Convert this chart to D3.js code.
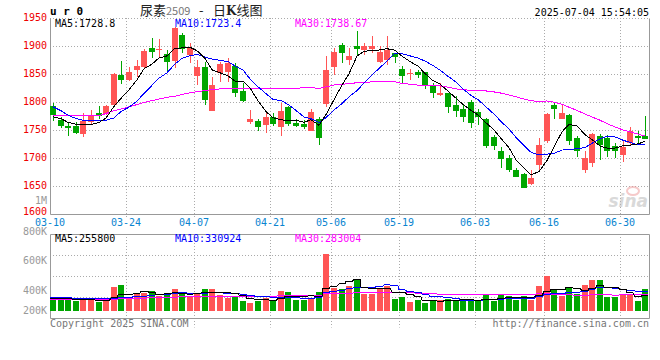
<!DOCTYPE html>
<html>
<head>
<meta charset="utf-8">
<script src="https://cdn.jsdelivr.net/npm/d3@7"></script>
<style>
  body { margin: 0; background: #fff; }
  svg text { font-family: "DejaVu Sans Mono", monospace; font-size: 10px; }
</style>
</head>
<body>
<div id="chart"></div>
<script>
// data
var dates = ['03-10','03-11','03-12','03-13','03-14','03-17','03-18','03-19','03-20','03-21',
  '03-24','03-25','03-26','03-27','03-28','03-31','04-01','04-02','04-03','04-07',
  '04-08','04-09','04-10','04-11','04-14','04-15','04-16','04-17','04-18','04-21',
  '04-22','04-23','04-24','04-25','04-28','04-29','04-30','05-06','05-07','05-08',
  '05-09','05-12','05-13','05-14','05-15','05-16','05-19','05-20','05-21','05-22',
  '05-23','05-26','05-27','05-28','05-29','05-30','06-03','06-04','06-05','06-06',
  '06-09','06-10','06-11','06-12','06-13','06-16','06-17','06-18','06-19','06-20',
  '06-23','06-24','06-25','06-26','06-27','06-30','07-01','07-02','07-03']
var opens = [1792,1767,1757,1757,1742,1764,1780,1778,1794,1848, 1839,1857,1863,1896,1892,1886,1873,1920,1884,1846,
  1863,1784,1852,1854,1864,1819,1763,1766,1758,1773, 1755,1790,1762,1761,1748,1770,1796,1862,1902,1874,
  1899,1893,1895,1871,1874,1887,1858,1849,1854,1853, 1830,1813,1815,1794,1787,1800,1781,1769,1737,1711,
  1700,1678,1671,1653,1687,1729,1794,1770,1776,1735, 1678,1691,1739,1735,1720,1705,1726,1739,1739]
var highs = [1798,1773,1763,1764,1780,1785,1792,1794,1852,1873, 1863,1875,1895,1914,1912,1892,1934,1923,1905,1875,
  1872,1845,1872,1878,1869,1833,1785,1770,1782,1780, 1797,1792,1770,1768,1787,1773,1882,1897,1905,1896,
  1926,1905,1917,1899,1917,1888,1864,1858,1857,1854, 1833,1834,1816,1810,1794,1803,1787,1771,1741,1719,
  1705,1681,1672,1678,1735,1780,1797,1794,1778,1738, 1711,1744,1742,1741,1726,1732,1754,1747,1775]
var lows = [1766,1753,1739,1743,1737,1759,1769,1776,1791,1832, 1838,1845,1860,1878,1878,1854,1861,1888,1869,1830,
  1794,1784,1836,1836,1809,1800,1761,1748,1745,1757, 1739,1757,1754,1752,1747,1723,1790,1848,1869,1866,
  1882,1884,1887,1869,1866,1870,1833,1839,1842,1822, 1806,1810,1780,1772,1763,1753,1759,1717,1713,1681,
  1674,1665,1645,1651,1678,1726,1770,1770,1723,1702, 1672,1684,1696,1702,1699,1693,1723,1723,1733]
var closes = [1776,1756,1753,1745,1766,1776,1775,1792,1849,1839, 1853,1864,1891,1890,1894,1872,1932,1894,1896,1863,
  1803,1830,1867,1870,1815,1802,1769,1754,1772,1760, 1784,1761,1757,1755,1782,1735,1857,1889,1887,1882,
  1894,1899,1899,1890,1893,1880,1846,1852,1848,1828, 1815,1815,1790,1784,1772,1762,1773,1721,1720,1697,
  1677,1666,1645,1663,1723,1778,1787,1780,1729,1711, 1699,1742,1723,1711,1711,1719,1747,1735,1733]
var volumes = [198,233,198,174,186,198,157,174,417,447, 233,290,313,348,256,273,377,303,256,313,
  377,377,273,233,256,174,139,174,233,186, 348,330,198,198,233,330,998,407,390,430,
  546,290,303,407,430,216,243,157,186,139, 186,186,216,186,198,174,174,290,174,290,
  256,198,256,198,430,603,372,256,407,303, 447,546,546,243,243,290,273,174,377].map(function (v) { return v * 1000 })

// moving averages before the window is full (they use older bars)
var ma5Head = [1773,1770,1763,1760]
var ma10Head = [1791,1784,1776,1770,1767,1766,1766,1767,1771]
var ma30Head = [1775,1775,1775,1775,1775,1775,1775,1779,1784,1787, 1791,1795,1799,1802,1805,1808,1810,1813,1816,1818,
  1820,1822,1823,1824,1824,1824,1823,1823,1823]
var vma5Head = [225000,220000,215000,205000]
var vma10Head = [232000,230000,228000,225000,222000,218000,214000,212000,214000]
var vma30Head = [200000,200000,200000,200000,200000,200000,200000,200000,200000,210000,
  215000,220000,225000,230000,235000,240000,243000,246000,248000,250000,
  252000,254000,255000,256000,257000,258000,258000,258000,258000]

var priceTicks = [1600,1650,1700,1750,1800,1850,1900,1950]
var volTicks = [1000000,800000,600000,400000,200000]
var volTickText = ['1M','800K','600K','400K','200K']
var dateTicks = ['03-10','03-24','04-07','04-21','05-06','05-19','06-03','06-16','06-30']
var priceMaText = ['MA5:1728.8','MA10:1723.4','MA30:1738.67']
var volMaText = ['MA5:255800','MA10:330924','MA30:283004']

var RED = '#ff5555', GREEN = '#00a600', GRID = '#aaa', FRAME = '#999'
var maColors = ['#000','#0000ff','#ff00ff']

var svg = d3.select('#chart').append('svg')
    .attr('width', 660)
    .attr('height', 360)

var left = 50, right = 650
var pTop = 18, pBot = 213.5
var vTop = 234, vBot = 317.5

var xScale = d3.scaleBand().domain(dates).range([left, right])
var yScale = d3.scaleLinear().domain([1600, 1950]).range([pBot, pTop])
var vScale = d3.scaleLinear().domain([0, 1000000]).range([311, 253.5])
// axis text of the volume panel sits on its own spacing
var vLabelScale = d3.scaleLinear().domain([400000, 1000000]).range([290, 200])

function px(d) { return Math.round(xScale(d)) }
function snap(v) { return Math.round(v) + 0.5 }

function movingAvg(vals, n, head) {
  return vals.map(function (v, i) {
    if (i < n - 1) return head[i]
    return d3.mean(vals.slice(i - n + 1, i + 1))
  })
}

var candles = dates.map(function (d, i) {
  return { date: d, o: opens[i], h: highs[i], l: lows[i], c: closes[i], v: volumes[i], up: closes[i] >= opens[i] }
})

// header texts
svg.append('text').attr('x', 50).attr('y', 15)
    .style('font-weight', 'bold').style('font-size', '11px')
    .text('u r 0')
var title = svg.append('text').attr('y', 15)
    .style('font-family', '"Noto Sans CJK SC"').style('font-size', '13px').attr('fill', '#222')
title.append('tspan').attr('x', 140).text('尿素')
title.append('tspan').attr('fill', '#777').style('font-size', '11px').text('2509')
title.append('tspan').attr('x', 199).text('-')
title.append('tspan').attr('x', 213).text('日')
title.append('tspan').style('font-weight', 'bold').style('font-family', '"DejaVu Serif"').style('font-size', '12px').text('K')
title.append('tspan').text('线图')
svg.append('text').attr('x', 649).attr('y', 16).attr('text-anchor', 'end')
    .text('2025-07-04 15:54:05')

// grid - price panel
var grid = svg.append('g').attr('stroke', GRID).attr('stroke-dasharray', '1,2')
grid.selectAll('line.h')
    .data(priceTicks.slice(1))
    .enter().append('line')
    .attr('x1', left).attr('x2', right - 1)
    .attr('y1', function (d) { return snap(yScale(d)) })
    .attr('y2', function (d) { return snap(yScale(d)) })
grid.selectAll('line.v')
    .data(dateTicks.slice(1))
    .enter().append('line')
    .attr('x1', function (d) { return px(d) + 0.5 })
    .attr('x2', function (d) { return px(d) + 0.5 })
    .attr('y1', pTop).attr('y2', pBot + 4)
grid.selectAll('line.vv')
    .data(dateTicks.slice(1))
    .enter().append('line')
    .attr('x1', function (d) { return px(d) + 0.5 })
    .attr('x2', function (d) { return px(d) + 0.5 })
    .attr('y1', vTop).attr('y2', vBot + 10)
grid.selectAll('line.vh')
    .data([1, 2, 3])
    .enter().append('line')
    .attr('x1', left).attr('x2', right - 1)
    .attr('y1', function (d) { return snap(vTop + (vBot - vTop) * d / 4) })
    .attr('y2', function (d) { return snap(vTop + (vBot - vTop) * d / 4) })

// frames
var frame = svg.append('g').attr('fill', 'none').attr('stroke', FRAME)
frame.append('path').attr('d', 'M50.5,' + snap(pTop) + 'V' + snap(pBot) + 'H649.5V' + snap(pTop))
frame.append('path').attr('d', 'M50.5,' + snap(vTop) + 'V' + snap(vBot) + 'H649.5V' + snap(vTop) + 'Z')

// price axis labels (the lowest one is lifted a little off the date row)
svg.append('g').selectAll('text')
    .data(priceTicks)
    .enter().append('text')
    .attr('x', 47).attr('text-anchor', 'end')
    .attr('y', function (d) { return Math.min(yScale(d) + 3, 214.5) })
    .attr('fill', '#ee0000')
    .text(function (d) { return d })

// date labels
svg.append('g').selectAll('text')
    .data(dateTicks)
    .enter().append('text')
    .attr('x', function (d) { return px(d) }).attr('text-anchor', 'middle')
    .attr('y', 225.5)
    .attr('fill', '#0a84d0')
    .text(function (d) { return d })

// volume axis labels
svg.append('g').selectAll('text')
    .data(volTicks)
    .enter().append('text')
    .attr('x', 47).attr('text-anchor', 'end')
    .attr('y', function (d) { return Math.min(vLabelScale(d), 310) + (d === 800000 ? 5 : 3.5) })
    .attr('fill', '#999')
    .text(function (d, i) { return volTickText[i] })

// watermark
var wm = svg.append('g').attr('opacity', 0.55)
wm.append('text').attr('x', 648).attr('y', 207).attr('text-anchor', 'end')
    .style('font-family', '"DejaVu Sans"').style('font-size', '17px')
    .style('font-style', 'italic').style('font-weight', 'bold')
    .attr('fill', '#bbb').text('sina')
wm.append('ellipse').attr('cx', 633).attr('cy', 191).attr('rx', 6).attr('ry', 4)
    .attr('fill', 'none').attr('stroke', '#f0a0a0').attr('stroke-width', 2)

// candles
var cg = svg.append('g').attr('shape-rendering', 'crispEdges')
cg.selectAll('rect.wick')
    .data(candles)
    .enter().append('rect')
    .attr('x', function (d) { return px(d.date) + 3 })
    .attr('width', 1)
    .attr('y', function (d) { return Math.round(yScale(d.h)) })
    .attr('height', function (d) { return Math.max(1, Math.round(yScale(d.l)) - Math.round(yScale(d.h))) })
    .attr('fill', function (d) { return d.up ? RED : GREEN })
cg.selectAll('rect.body')
    .data(candles)
    .enter().append('rect')
    .attr('x', function (d) { return px(d.date) })
    .attr('width', 6)
    .attr('y', function (d) { return Math.round(yScale(Math.max(d.o, d.c))) })
    .attr('height', function (d) { return Math.max(1, Math.round(yScale(Math.min(d.o, d.c))) - Math.round(yScale(Math.max(d.o, d.c)))) })
    .attr('fill', function (d) { return d.up ? RED : GREEN })

// price moving averages
var priceMa = [movingAvg(closes, 5, ma5Head), movingAvg(closes, 10, ma10Head), movingAvg(closes, 30, ma30Head)]
var line = d3.line()
    .x(function (d, i) { return px(dates[i]) + 3 })
    .y(function (d) { return yScale(d) })
svg.append('g').attr('fill', 'none').attr('shape-rendering', 'crispEdges')
  .selectAll('path')
    .data(priceMa.slice().reverse())
    .enter().append('path')
    .attr('stroke', function (d, i) { return maColors[2 - i] })
    .attr('d', line)

// volume bars
var vg = svg.append('g').attr('shape-rendering', 'crispEdges')
vg.selectAll('rect')
    .data(candles)
    .enter().append('rect')
    .attr('x', function (d) { return px(d.date) })
    .attr('width', 6)
    .attr('y', function (d) { return Math.round(vScale(d.v)) })
    .attr('height', function (d) { return Math.round(vScale(0)) - Math.round(vScale(d.v)) })
    .attr('fill', function (d) { return d.up ? RED : GREEN })

// volume moving averages drawn as short steps over each bar
var volMa = [movingAvg(volumes, 5, vma5Head), movingAvg(volumes, 10, vma10Head), movingAvg(volumes, 30, vma30Head)]
function stepPoints(vals) {
  var pts = []
  vals.forEach(function (v, i) {
    pts.push([px(dates[i]), vScale(v)])
    pts.push([px(dates[i]) + 6, vScale(v)])
  })
  return pts
}
svg.append('g').attr('fill', 'none').attr('shape-rendering', 'crispEdges')
  .selectAll('path')
    .data(volMa.slice().reverse())
    .enter().append('path')
    .attr('stroke', function (d, i) { return maColors[2 - i] })
    .attr('d', function (d) { return d3.line()(stepPoints(d)) })

// legend texts
var legX = [55, 175, 295]
svg.append('g').selectAll('text')
    .data(priceMaText)
    .enter().append('text')
    .attr('x', function (d, i) { return legX[i] }).attr('y', 27)
    .attr('fill', function (d, i) { return maColors[i] })
    .text(function (d) { return d })
svg.append('g').selectAll('text')
    .data(volMaText)
    .enter().append('text')
    .attr('x', function (d, i) { return legX[i] }).attr('y', 242)
    .attr('fill', function (d, i) { return maColors[i] })
    .text(function (d) { return d })

// footer
svg.append('text').attr('x', 50).attr('y', 327).attr('fill', '#777')
    .text('Copyright 2025 SINA.COM')
svg.append('text').attr('x', 649).attr('y', 327).attr('text-anchor', 'end').attr('fill', '#777')
    .text('http://finance.sina.com.cn')
</script>
</body>
</html>
